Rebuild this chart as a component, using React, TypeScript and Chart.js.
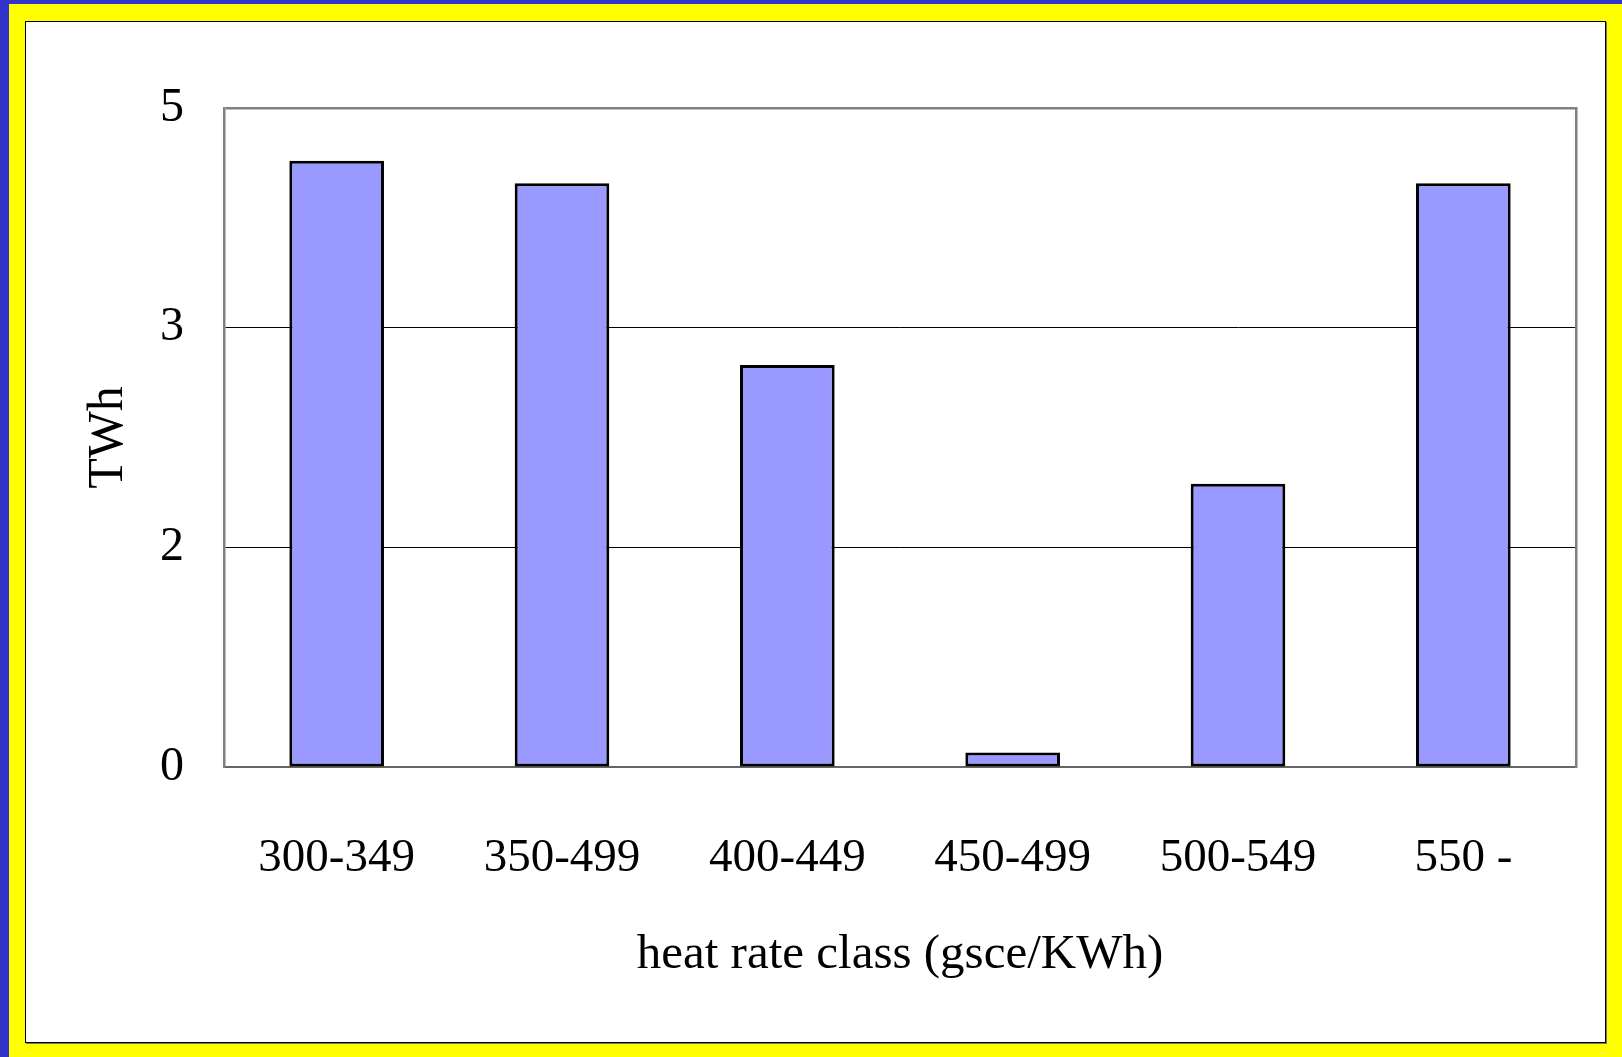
import React, { useEffect, useRef } from "react";
import { Chart, registerables } from "chart.js";

Chart.register(...registerables);

const categories = ["300-349", "350-499", "400-449", "450-499", "500-549", "550 -"];
const values = [4.6, 4.43, 3.05, 0.11, 2.15, 4.43];
const yTickLabels = ["0", "2", "3", "5"];
const xTitle = "heat rate class (gsce/KWh)";
const yTitle = "TWh";

const FONT = '"Liberation Serif", "Times New Roman", serif';

export default function App() {
  const ref = useRef<HTMLCanvasElement | null>(null);

  useEffect(() => {
    const canvas = ref.current;
    if (!canvas) return;
    const chart = new Chart(canvas, {
      type: "bar",
      data: {
        labels: categories,
        datasets: [
          {
            data: values,
            backgroundColor: "#9999ff",
            borderColor: "#000000",
            borderWidth: 3,
            borderSkipped: false,
            categoryPercentage: 1,
            barPercentage: 0.42,
          },
        ],
      },
      options: {
        animation: false,
        responsive: false,
        maintainAspectRatio: false,
        events: [],
        layout: { padding: { top: 86, right: 29, left: 0, bottom: 0 } },
        plugins: { legend: { display: false }, tooltip: { enabled: false } },
        scales: {
          x: {
            type: "category",
            offset: true,
            grid: { display: false, drawTicks: false },
            border: { display: true, color: "#666666", width: 2 },
            ticks: {
              color: "#000",
              font: { family: FONT, size: 47 },
              padding: 63,
              maxRotation: 0,
              minRotation: 0,
              autoSkip: false,
            },
            title: {
              display: true,
              text: xTitle,
              color: "#000",
              font: { family: FONT, size: 49 },
              padding: { top: 0, bottom: 57 },
            },
            afterFit: (scale: any) => {
              scale.height = 275;
            },
          },
          y: {
            type: "linear",
            position: "left",
            min: 0,
            max: 5,
            ticks: {
              count: 4,
              color: "#000",
              font: { family: FONT, size: 48 },
              padding: 40,
              callback: (_v: any, i: number) => yTickLabels[i],
            },
            grid: {
              drawTicks: false,
              color: (ctx: any) => {
                const i = ctx.index;
                if (i === 0) return "rgba(0,0,0,0)";
                if (i === 3) return "#808080";
                return "#000000";
              },
              lineWidth: (ctx: any) => (ctx.index === 3 ? 2.5 : 1),
            },
            border: { display: true, color: "#808080", width: 2.5 },
            title: {
              display: true,
              text: yTitle,
              color: "#000",
              font: { family: FONT, size: 50 },
              padding: { top: 53, bottom: 0 },
            },
            afterFit: (scale: any) => {
              scale.width = 198;
            },
          },
          y2: {
            type: "linear",
            position: "right",
            min: 0,
            max: 5,
            ticks: { display: false, count: 4 },
            grid: { display: false, drawTicks: false },
            border: { display: true, color: "#808080", width: 2.5 },
            afterFit: (scale: any) => {
              scale.width = 0;
            },
          },
        },
      },
    });
    return () => chart.destroy();
  }, []);

  return (
    <div
      style={{
        position: "fixed",
        left: 0,
        top: 0,
        width: 1622,
        height: 1057,
        background: "#ffff00",
        boxSizing: "border-box",
        borderTop: "4px solid #3333cc",
        borderLeft: "9px solid #3333cc",
        overflow: "hidden",
      }}
    >
      <div
        style={{
          position: "absolute",
          left: 25 - 9,
          top: 21 - 4,
          width: 1581,
          height: 1022,
          boxSizing: "border-box",
          background: "#ffffff",
          border: "1px solid #000",
          boxShadow: "1px 1px 0 #777",
        }}
      >
        <canvas
          ref={ref}
          width={1579}
          height={1020}
          style={{ display: "block", width: 1579, height: 1020 }}
        />
      </div>
    </div>
  );
}
